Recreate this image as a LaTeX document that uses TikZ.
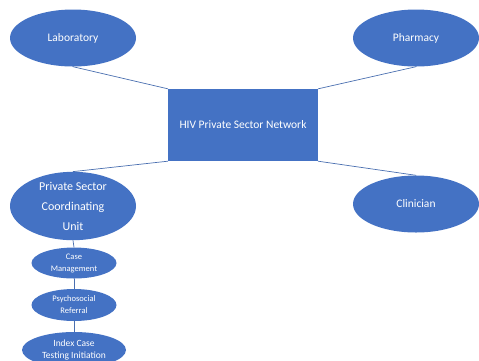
\documentclass[tikz,border=0pt]{standalone}
\usepackage{fontspec}
\setmainfont{Carlito}
\usetikzlibrary{shapes.geometric}
\definecolor{hivblue}{HTML}{4472C4}
\definecolor{linkblue}{HTML}{4A6FB0}
\begin{document}
\begin{tikzpicture}[x=1pt, y=-1pt, line join=round, line cap=round,
	bub/.style={ellipse, fill=hivblue, text=white, inner sep=0pt, align=center},
	bigbub/.style={bub, minimum width=126pt, minimum height=57pt, font=\fontsize{11.5}{13}\selectfont},
	smallbub/.style={bub, minimum width=85pt, minimum height=31pt, font=\fontsize{8.5}{12}\selectfont},
	link/.style={draw=linkblue, line width=0.7pt}]
	\useasboundingbox (0,0) rectangle (479,360);
	\clip (0,0) rectangle (479,360);
	% centre
	\node[fill=hivblue, text=white, minimum width=150pt, minimum height=72pt, inner sep=0pt,
		font=\fontsize{11.5}{13}\selectfont] (net) at (243,125) {HIV Private Sector Network};
	% corners
	\node[bigbub] (lab) at (73,38) {Laboratory};
	\node[bigbub] (pha) at (416,38) {Pharmacy};
	\node[bigbub] (cli) at (416,204) {Clinician};
	\node[bigbub, minimum height=62pt, font=\fontsize{12}{20}\selectfont] (psu) at (73,206)
		{Private Sector\\Coordinating\\Unit};
	% chain below the unit
	\node[smallbub] (cm) at (74,263) {Case\\Management};
	\node[smallbub, minimum height=32pt] (psy) at (74,305) {Psychosocial\\Referral};
	\node[smallbub, minimum width=104pt, minimum height=36pt, font=\fontsize{9.5}{11.5}\selectfont] (ict) at (74,350)
		{Index Case\\Testing Initiation};
	\draw[link] (lab.south) -- (net.north west);
	\draw[link] (pha.south) -- (net.north east);
	\draw[link] (net.south west) -- (psu.north);
	\draw[link] (net.south east) -- (cli.north);
	\draw[link] (psu.south) -- (cm.north);
	\draw[link] (cm.south) -- (psy.north);
	\draw[link] (psy.south) -- (ict.north);
\end{tikzpicture}
\end{document}
